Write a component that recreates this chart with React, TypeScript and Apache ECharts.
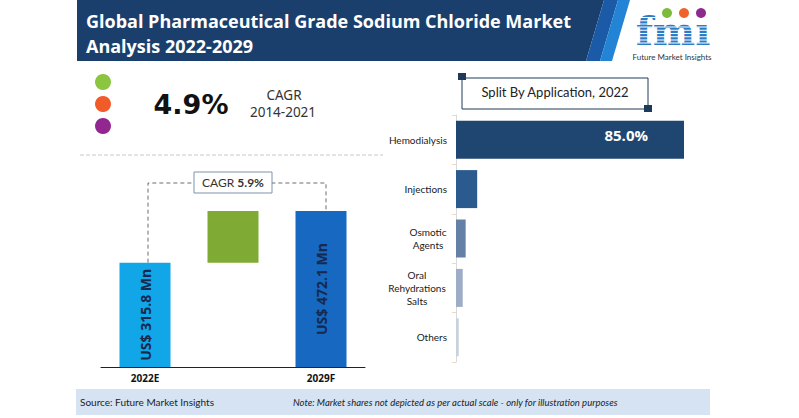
import React, { useEffect, useRef } from "react";
import * as echarts from "echarts";

// ---------- data ----------
const titleLines = ["Global Pharmaceutical Grade Sodium Chloride Market", "Analysis 2022-2029"];
const historicCagr = "4.9%";
const historicPeriod = "2014-2021";
const forecastCagr = "5.9%";
const yearCategories = ["2022E", "", "2029F"];
const startValue = 315.8;
const endValue = 472.1;
const appTitle = "Split By Application, 2022";
const appCategories = ["Hemodialysis", "Injections", "Osmotic\nAgents", "Oral\nRehydrations\nSalts", "Others"];
const appShares = [85.0, 7.9, 3.6, 2.5, 1.0];
const appColors = ["#1f4670", "#2b5a8e", "#6480a7", "#9cadc5", "#c9d1dc"];
const sourceText = "Source: Future Market Insights";
const noteText = "Note: Market shares not depicted as per actual scale - only for illustration purposes";

const NAVY = "#1b3f6d";

export default function App() {
  const ref = useRef<HTMLDivElement>(null);

  useEffect(() => {
    if (!ref.current) return;
    const chart = echarts.init(ref.current, undefined, { renderer: "svg" });
    const delta = +(endValue - startValue).toFixed(1);

    const option: any = {
      animation: false,
      backgroundColor: "#ffffff",
      grid: [
        { left: 101, top: 211, width: 264, height: 156 },
        { left: 456, top: 115, width: 228, height: 247 },
      ],
      xAxis: [
        {
          type: "category",
          gridIndex: 0,
          data: yearCategories,
          axisLine: { lineStyle: { color: "#222", width: 1 } },
          axisTick: { show: false },
          axisLabel: { fontFamily: "Open Sans", fontWeight: "bold", fontSize: 10, color: "#111", margin: 6 },
        },
        { type: "value", gridIndex: 1, min: 0, max: "dataMax", show: false },
      ],
      yAxis: [
        { type: "value", gridIndex: 0, min: 0, max: "dataMax", show: false },
        {
          type: "category",
          gridIndex: 1,
          inverse: true,
          data: appCategories,
          axisLine: { lineStyle: { color: "#d9d9d9" } },
          axisTick: { show: true, length: 4, lineStyle: { color: "#f0d6c4" } },
          axisLabel: {
            fontFamily: "Lato",
            fontSize: 10,
            color: "#1a1a1a",
            margin: 9,
            lineHeight: 13,
            formatter: (v: string) => {
              const lines = v.split("\n");
              if (lines.length === 1) return v;
              const key = lines.length === 2 ? "m2" : "m3";
              return lines.map((l) => `{${key}|${l}}`).join("\n");
            },
            rich: {
              m2: { width: 38, align: "center", fontFamily: "Lato", fontSize: 10, lineHeight: 13, color: "#1a1a1a" },
              m3: { width: 60, align: "center", fontFamily: "Lato", fontSize: 10, lineHeight: 13, color: "#1a1a1a" },
            },
          },
        },
      ],
      series: [
        {
          type: "bar",
          xAxisIndex: 0,
          yAxisIndex: 0,
          stack: "w",
          barWidth: 51,
          data: [
            { value: startValue, itemStyle: { color: "#10a6e7" } },
            "-",
            { value: endValue, itemStyle: { color: "#1668c1" } },
          ],
          label: {
            show: true,
            position: "inside",
            rotate: 90,
            formatter: (p: any) => `US$ ${p.value.toFixed(1)} Mn`,
            fontFamily: "Open Sans",
            fontWeight: "bold",
            fontSize: 14,
            color: "#17294d",
          },
        },
        {
          type: "bar",
          xAxisIndex: 0,
          yAxisIndex: 0,
          stack: "w",
          barWidth: 51,
          itemStyle: { color: "transparent" },
          data: ["-", startValue, "-"],
        },
        {
          type: "bar",
          xAxisIndex: 0,
          yAxisIndex: 0,
          stack: "w",
          barWidth: 51,
          itemStyle: { color: "#7fab34" },
          data: ["-", delta, "-"],
        },
        {
          type: "bar",
          xAxisIndex: 1,
          yAxisIndex: 1,
          barWidth: 38,
          data: appShares.map((v, i) => ({
            value: v,
            itemStyle: { color: appColors[i] },
            label:
              i === 0
                ? {
                    show: true,
                    position: "insideRight",
                    distance: 36,
                    offset: [0, -5],
                    formatter: (p: any) => `${p.value.toFixed(1)}%`,
                    fontFamily: "Open Sans",
                    fontWeight: "bold",
                    fontSize: 15,
                    color: "#ffffff",
                  }
                : { show: false },
          })),
        },
      ],
    };
    chart.setOption(option);

    const p1 = chart.convertToPixel({ xAxisIndex: 0, yAxisIndex: 0 }, [0, startValue]) as number[];
    const p2 = chart.convertToPixel({ xAxisIndex: 0, yAxisIndex: 0 }, [1, startValue]) as number[];
    const p3 = chart.convertToPixel({ xAxisIndex: 0, yAxisIndex: 0 }, [2, endValue]) as number[];
    const bracketY = 183;

    // fmi stripes
    const stripes: any[] = [];
    for (let y = 17; y <= 46; y += 3.2) {
      stripes.push({ type: "rect", shape: { x: 628, y, width: 92, height: 1 }, style: { fill: "#ffffff" } });
    }

    chart.setOption({
      graphic: [
        // header
        { type: "polygon", shape: { points: [[77, 0], [604, 0], [586, 61], [77, 61]] }, style: { fill: NAVY } },
        { type: "polygon", shape: { points: [[604, 0], [618, 0], [600, 61], [586, 61]] }, style: { fill: "#1a5aa6" } },
        { type: "polygon", shape: { points: [[618, 0], [630, 0], [612, 61], [600, 61]] }, style: { fill: "#2384d6" } },
        {
          type: "text",
          x: 86,
          y: 8,
          style: {
            text: titleLines.join("\n"),
            fill: "#ffffff",
            fontFamily: "Open Sans",
            fontWeight: "bold",
            fontSize: 18,
            lineHeight: 25,
          },
        },
        // logo
        {
          type: "text",
          x: 673,
          y: 30,
          style: {
            text: "fmı",
            fill: "#2a7cc6",
            fontFamily: "DejaVu Serif",
            fontWeight: "bold",
            fontSize: 40,
            lineHeight: 40,
            textAlign: "center",
            textVerticalAlign: "middle",
          },
        },
        ...stripes,
        { type: "circle", shape: { cx: 667, cy: 13, r: 5 }, style: { fill: "#7dbb3b" } },
        { type: "circle", shape: { cx: 684, cy: 13, r: 5 }, style: { fill: "#f0612b" } },
        { type: "circle", shape: { cx: 701, cy: 13, r: 5 }, style: { fill: "#8e2a8e" } },
        {
          type: "text",
          x: 672,
          y: 57,
          style: { text: "Future Market Insights", fill: "#333", fontFamily: "Lato", fontSize: 8, textAlign: "center", textVerticalAlign: "middle" },
        },
        // CAGR history block
        { type: "circle", shape: { cx: 103, cy: 82, r: 8 }, style: { fill: "#8cc540" } },
        { type: "circle", shape: { cx: 103, cy: 104, r: 8 }, style: { fill: "#f15a29" } },
        { type: "circle", shape: { cx: 103, cy: 126, r: 8 }, style: { fill: "#92278f" } },
        {
          type: "text",
          x: 191,
          y: 104,
          style: { text: historicCagr, fill: "#111", fontFamily: "DejaVu Sans", fontWeight: "bold", fontSize: 27, textAlign: "center", textVerticalAlign: "middle" },
        },
        {
          type: "text",
          x: 284,
          y: 95,
          style: { text: "CAGR", fill: "#333", fontFamily: "Noto Sans", fontSize: 13.5, lineHeight: 14, textAlign: "center", textVerticalAlign: "middle" },
        },
        {
          type: "text",
          x: 283,
          y: 112,
          style: { text: historicPeriod, fill: "#333", fontFamily: "Noto Sans", fontSize: 13.5, lineHeight: 14, textAlign: "center", textVerticalAlign: "middle" },
        },
        {
          type: "line",
          shape: { x1: 80, y1: 155, x2: 383, y2: 155 },
          style: { stroke: "#c8c8c8", lineWidth: 1, lineDash: [4, 2] },
        },
        // bracket
        {
          type: "polyline",
          shape: { points: [[p1[0] + 3, p1[1]], [p1[0] + 3, bracketY], [p3[0] + 5, bracketY], [p3[0] + 5, p3[1]]] },
          style: { stroke: "#6d6d6d", lineWidth: 1, lineDash: [4, 3], fill: "none" },
        },
        {
          type: "rect",
          shape: { x: p2[0] - 39, y: 172, width: 78, height: 21 },
          style: { fill: "#ffffff", stroke: "#7f93ad", lineWidth: 1 },
        },
        {
          type: "text",
          x: p2[0],
          y: 182.5,
          style: {
            text: `{r|CAGR }{b|${forecastCagr}}`,
            textAlign: "center",
            textVerticalAlign: "middle",
            rich: {
              r: { fontFamily: "Lato", fontSize: 12, fill: "#333" },
              b: { fontFamily: "Lato", fontWeight: "bold", fontSize: 12, fill: "#333" },
            },
          },
        },
        // split by application box
        { type: "rect", shape: { x: 462, y: 78, width: 186, height: 31 }, style: { fill: "#ffffff", stroke: "#1e3a5a", lineWidth: 1 } },
        { type: "rect", shape: { x: 458, y: 73, width: 8, height: 7 }, style: { fill: "#1e3a5a" } },
        { type: "rect", shape: { x: 644, y: 105, width: 8, height: 7 }, style: { fill: "#1e3a5a" } },
        {
          type: "text",
          x: 555,
          y: 92,
          style: { text: appTitle, fill: "#222", fontFamily: "Lato", fontSize: 13, textAlign: "center", textVerticalAlign: "middle" },
        },
        // footer
        { type: "rect", shape: { x: 76, y: 389, width: 634, height: 26 }, style: { fill: "#d5e3f2" } },
        {
          type: "text",
          x: 80,
          y: 402,
          style: { text: sourceText, fill: "#222", fontFamily: "Lato", fontSize: 10, textVerticalAlign: "middle" },
        },
        {
          type: "text",
          x: 293,
          y: 402,
          style: { text: noteText, fill: "#222", fontFamily: "Lato", fontStyle: "italic", fontSize: 9.5, textVerticalAlign: "middle" },
        },
      ],
    });

    return () => chart.dispose();
  }, []);

  return <div ref={ref} style={{ position: "fixed", left: 0, top: 0, width: 799, height: 418 }} />;
}
